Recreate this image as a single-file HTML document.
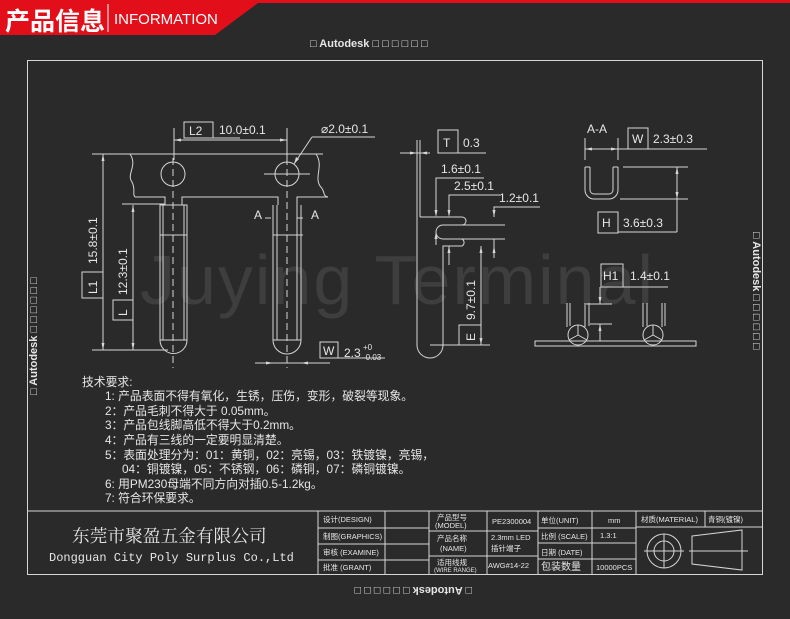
<!DOCTYPE html>
<html><head><meta charset="utf-8"><style>
html,body{margin:0;padding:0;background:#2a2a2a;}
svg{display:block;}
text{font-family:"Liberation Sans","Noto Sans CJK SC",sans-serif;fill:#e6e6e6;}
.m{font-family:"Liberation Mono","Noto Sans CJK SC",monospace;}
.cj{font-family:"Noto Serif CJK SC","Noto Sans CJK SC",serif;}
</style></head><body>
<svg width="790" height="619" viewBox="0 0 790 619" xmlns="http://www.w3.org/2000/svg">
<rect width="790" height="619" fill="#2a2a2a"/>
<polygon points="0,0 790,0 790,3 258,3 215,35 0,35" fill="#e20f1a"/>
<text x="5" y="30" font-size="25" font-weight="bold" fill="#fff" style="fill:#fff">产品信息</text>
<line x1="108" y1="4" x2="108" y2="32" stroke="#fff" stroke-width="1"/>
<text x="114" y="24" font-size="15" style="fill:#fff">INFORMATION</text>

<g font-size="11" font-weight="bold">
<text x="310" y="47">□  Autodesk □ □ □ □ □ □</text>
<text transform="translate(472,587) rotate(180)">□  Autodesk □ □ □ □ □ □</text>
<text transform="translate(37,395) rotate(-90)">□  Autodesk □ □ □ □ □ □</text>
<text transform="translate(753,232) rotate(90)">□  Autodesk □ □ □ □ □ □</text>
</g>

<text x="140" y="304" font-size="70" style="fill:#3e3e3e" font-family="DejaVu Sans" letter-spacing="2">Juying Terminal</text>

<g stroke="#d6d6d6" stroke-width="1" fill="none">
<rect x="27.5" y="60.5" width="735" height="514"/>
<line x1="92" y1="154" x2="323" y2="154"/>
<path d="M130,154 C138,166 126,174 132,182 C136,190 132,194 135,197"/>
<path d="M316,154 C324,166 314,176 320,186 C326,192 322,196 328,197"/>
<path d="M135,197 H165 V205 M182,205 V197 H278 V205 M297,205 V197 H328"/>
<circle cx="173" cy="174" r="12"/>
<circle cx="287" cy="174" r="12"/>
<line x1="264" y1="174" x2="310" y2="174"/>
<path d="M160,205 V340 A13,13 0 0 0 187,340 V205 Z"/>
<path d="M163,205 V340 M184,205 V340"/>
<line x1="160" y1="235" x2="187" y2="235"/>
<path d="M273,205 V340 A14,14 0 0 0 301,340 V205"/>
<path d="M277,205 V340 M297,205 V340"/>
<line x1="273" y1="235" x2="303" y2="235"/>
<line x1="273" y1="340" x2="301" y2="340"/>
<line x1="160" y1="340" x2="187" y2="340"/>
<g stroke-dasharray="7,4"><line x1="173" y1="158" x2="173" y2="368"/><line x1="287" y1="158" x2="287" y2="368"/></g>
<line x1="174" y1="128" x2="174" y2="160"/><line x1="287" y1="128" x2="287" y2="160"/>
<line x1="174" y1="140" x2="287" y2="140"/>
<rect x="184" y="122" width="29" height="16"/>
<line x1="213" y1="138" x2="240" y2="138"/>
<line x1="294" y1="164" x2="312" y2="137"/><line x1="312" y1="137" x2="375" y2="137"/>
<line x1="103" y1="154" x2="103" y2="350"/><line x1="92" y1="350" x2="168" y2="350"/>
<rect x="82" y="272" width="21" height="26"/>
<line x1="133" y1="205" x2="133" y2="350"/><line x1="122" y1="204" x2="165" y2="204"/>
<rect x="113" y="300" width="20" height="20"/>
<line x1="255" y1="363" x2="320" y2="363"/><line x1="301" y1="363" x2="330" y2="363"/>
<rect x="320" y="342" width="18" height="16"/>
<line x1="338" y1="358" x2="385" y2="358"/>
<path d="M265,218 H271 M303,218 H297"/>
<line x1="417" y1="140" x2="417" y2="345"/>
<line x1="420" y1="140" x2="420" y2="217"/>
<path d="M420,217 H462 A4,4 0 0 1 462,225 H443 A7,7 0 0 0 443,239 H462 A4,4 0 0 1 462,246 H443 V345"/>
<line x1="443" y1="225" x2="505" y2="225"/><line x1="443" y1="239" x2="505" y2="239"/>
<path d="M417,345 A13,13 0 0 0 443,345"/>
<line x1="430" y1="345" x2="490" y2="345"/>
<rect x="438" y="130" width="20" height="23"/>
<line x1="458" y1="153" x2="486" y2="153"/>
<line x1="400" y1="153" x2="430" y2="153"/>
<path d="M484,178 H436 V215 M500,195 H449 V215 M540,207 H494 V217"/>
<line x1="436" y1="232" x2="436" y2="245"/>
<line x1="449" y1="246" x2="449" y2="265"/>
<line x1="494" y1="239" x2="494" y2="258"/>
<line x1="481" y1="246" x2="481" y2="345"/>
<rect x="459" y="325" width="22" height="20"/>
<line x1="585" y1="138" x2="585" y2="160"/><line x1="618" y1="138" x2="618" y2="160"/>
<line x1="585" y1="149" x2="707" y2="149"/>
<rect x="628" y="128" width="20" height="21"/>
<path d="M585,167 V190 A9,9 0 0 0 594,199 H609 A9,9 0 0 0 618,190 V167"/>
<path d="M590,167 V190 A4,4 0 0 0 594,194 H609 A4,4 0 0 0 613,190 V167 M585,167 H590 M613,167 H618"/>
<line x1="623" y1="167" x2="688" y2="167"/><line x1="620" y1="199" x2="688" y2="199"/>
<line x1="677" y1="167" x2="677" y2="232"/>
<rect x="598" y="212" width="20" height="21"/>
<line x1="618" y1="232" x2="677" y2="232"/>
<rect x="601" y="264" width="22" height="23"/>
<line x1="623" y1="287" x2="668" y2="287"/>
<line x1="600" y1="287" x2="600" y2="304"/>
<line x1="586" y1="304" x2="612" y2="304"/><line x1="590" y1="324" x2="612" y2="324"/>
<line x1="600" y1="324" x2="600" y2="341"/>
<rect x="535" y="341" width="161" height="5"/>
<circle cx="578" cy="335" r="10"/><circle cx="653" cy="335" r="10"/>
<path d="M578,335 V325 M578,335 L569,340 M578,335 L587,340 M653,335 V325 M653,335 L644,340 M653,335 L662,340"/>
<path d="M567,303 V327 M570,303 V326 M585,303 V327 M589,303 V326 M643,303 V327 M647,303 V326 M662,303 V327 M665,303 V326"/>
<line x1="27" y1="511" x2="763" y2="511"/>
<path d="M318,511 V574 M385,511 V574 M429,511 V574 M487,511 V574 M538,511 V574 M592,511 V574 M636,511 V574 M705,511 V527"/>
<path d="M318,528 H429 M318,544 H429 M318,560 H429"/>
<path d="M429,531 H538 M429,556 H538"/>
<path d="M538,528 H636 M538,543 H636 M538,559 H636"/>
<path d="M636,527 H763"/>
<circle cx="664" cy="551" r="17"/><circle cx="664" cy="551" r="10"/>
<path d="M644,551 H684 M664,534 V568 M689,551 H748 M692,536 L742,530 V570 L692,564 Z"/>
</g>
<g fill="#d6d6d6">
<polygon points="174,140 181,138.5 181,141.5"/><polygon points="287,140 280,138.5 280,141.5"/>
<polygon points="103,154 101.5,161 104.5,161"/><polygon points="103,350 101.5,343 104.5,343"/>
<polygon points="133,205 131.5,212 134.5,212"/><polygon points="133,350 131.5,343 134.5,343"/>
<polygon points="273,363 266,361.5 266,364.5"/><polygon points="301,363 308,361.5 308,364.5"/>
<polygon points="294,164 296,157 299,159"/>
<polygon points="417,153 410,151.5 410,154.5"/><polygon points="420,153 427,151.5 427,154.5"/>
<polygon points="436,217 434.5,210 437.5,210"/><polygon points="449,217 447.5,210 450.5,210"/><polygon points="494,217 492.5,210 495.5,210"/>
<polygon points="436,232 434.5,239 437.5,239"/><polygon points="449,246 447.5,253 450.5,253"/><polygon points="494,246 492.5,253 495.5,253"/>
<polygon points="481,246 479.5,253 482.5,253"/><polygon points="481,345 479.5,338 482.5,338"/>
<polygon points="585,149 592,147.5 592,150.5"/><polygon points="618,149 611,147.5 611,150.5"/>
<polygon points="677,167 675.5,174 678.5,174"/><polygon points="677,199 675.5,192 678.5,192"/>
<polygon points="600,304 598.5,297 601.5,297"/><polygon points="600,324 598.5,331 601.5,331"/>
</g>
<g font-size="12">
<text x="189" y="135">L2</text><text x="219" y="134">10.0±0.1</text>
<text x="321" y="133">⌀2.0±0.1</text>
<text x="254" y="219">A</text><text x="311" y="219">A</text>
<text transform="translate(97,294) rotate(-90)">L1</text>
<text transform="translate(97,264) rotate(-90)">15.8±0.1</text>
<text transform="translate(127,316) rotate(-90)">L</text>
<text transform="translate(127,295) rotate(-90)">12.3±0.1</text>
<text x="323" y="355">W</text><text x="344" y="357">2.3</text>
<text x="363" y="350" font-size="8">+0</text><text x="363" y="360" font-size="8">-0.03</text>
<text x="443" y="147">T</text><text x="463" y="147">0.3</text>
<text x="441" y="173">1.6±0.1</text><text x="454" y="190">2.5±0.1</text><text x="499" y="202">1.2±0.1</text>
<text transform="translate(475,341) rotate(-90)">E</text>
<text transform="translate(475,320) rotate(-90)">9.7±0.1</text>
<text x="587" y="133">A-A</text>
<text x="632" y="143">W</text><text x="653" y="143">2.3±0.3</text>
<text x="602" y="227">H</text><text x="623" y="227">3.6±0.3</text>
<text x="603" y="280">H1</text><text x="630" y="280">1.4±0.1</text>
</g>
<g font-size="11.8" class="cj">
<text x="82" y="386">技术要求:</text>
<text x="105" y="400">1: 产品表面不得有氧化，生锈，压伤，变形，破裂等现象。</text>
<text x="105" y="415">2：产品毛刺不得大于 0.05mm。</text>
<text x="105" y="429">3：产品包线脚高低不得大于0.2mm。</text>
<text x="105" y="444">4：产品有三线的一定要明显清楚。</text>
<text x="105" y="459">5：表面处理分为：01：黄铜，02：亮锡，03：铁镀镍，亮锡，</text>
<text x="122" y="473">04：铜镀镍，05：不锈钢，06：磷铜，07：磷铜镀镍。</text>
<text x="105" y="488">6: 用PM230母端不同方向对插0.5-1.2kg。</text>
<text x="105" y="502">7: 符合环保要求。</text>
</g>
<text x="72" y="542" font-size="17.7" class="cj">东莞市聚盈五金有限公司</text>
<text x="49" y="561" font-size="12" class="m">Dongguan City Poly Surplus Co.,Ltd</text>
<g font-size="7.5" class="cj">
<text x="323" y="522">设计(DESIGN)</text><text x="323" y="539">制图(GRAPHICS)</text>
<text x="323" y="555">审核 (EXAMINE)</text><text x="323" y="570">批准 (GRANT)</text>
<text x="437" y="520">产品型号</text><text x="435" y="528">(MODEL)</text>
<text x="437" y="541">产品名称</text><text x="440" y="551">(NAME)</text>
<text x="437" y="565">适用线规</text><text x="434" y="572" font-size="6">(WIRE RANGE)</text>
<text x="492" y="524">PE2300004</text>
<text x="491" y="540">2.3mm LED</text><text x="491" y="551">插针端子</text>
<text x="488" y="568">AWG#14-22</text>
<text x="541" y="523">单位(UNIT)</text><text x="541" y="539">比例 (SCALE)</text>
<text x="541" y="555">日期 (DATE)</text><text x="541" y="570" font-size="10">包装数量</text>
<text x="608" y="523">mm</text><text x="600" y="538">1.3:1</text><text x="596" y="570">10000PCS</text>
<text x="641" y="522">材质(MATERIAL)</text><text x="708" y="522">青铜(镀镍)</text>
</g>
</svg>
</body></html>
